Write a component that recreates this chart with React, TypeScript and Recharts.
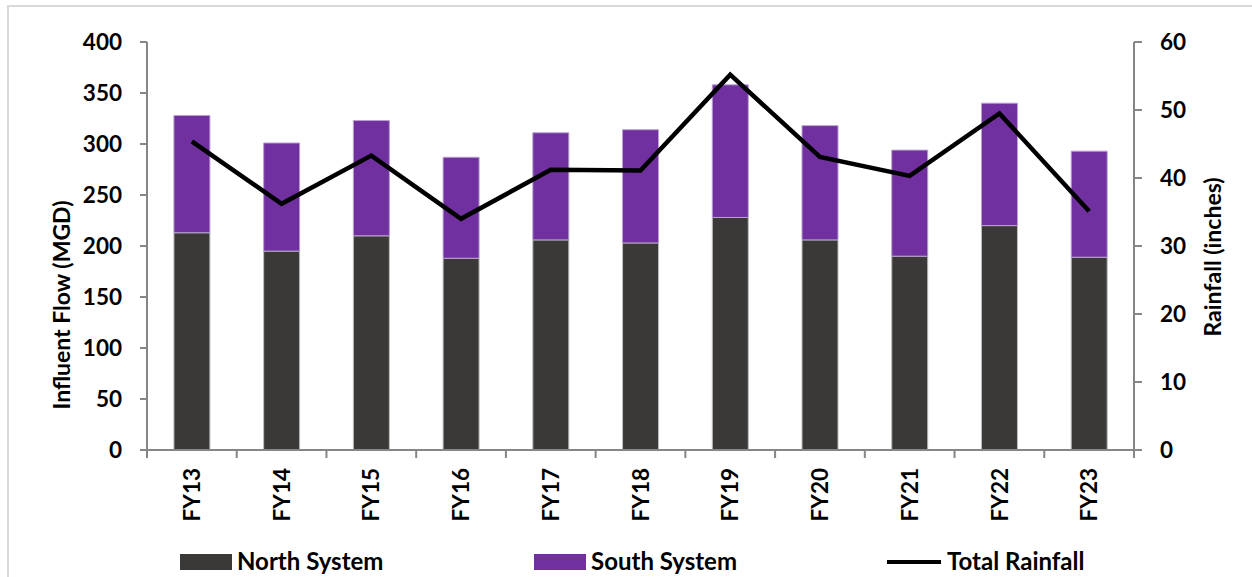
import React from "react";
import { ComposedChart, Bar, Line, XAxis, YAxis, Label } from "recharts";

const categories = ["FY13", "FY14", "FY15", "FY16", "FY17", "FY18", "FY19", "FY20", "FY21", "FY22", "FY23"];
const northSystem = [213, 195, 210, 188, 206, 203, 228, 206, 190, 220, 189];
const southSystem = [115, 106, 113, 99, 105, 111, 130, 112, 104, 120, 104];
const totalRainfall = [45.4, 36.2, 43.3, 34.0, 41.2, 41.1, 55.2, 43.1, 40.3, 49.5, 35.1];
const leftTicks = [0, 50, 100, 150, 200, 250, 300, 350, 400];
const rightTicks = [0, 10, 20, 30, 40, 50, 60];

const data = categories.map((c, i) => ({
  name: c,
  north: northSystem[i],
  south: southSystem[i],
  rain: totalRainfall[i],
}));

const FONT = "Lato, 'Open Sans', sans-serif";
const W = 1252;
const H = 577;
const PLOT_LEFT = 147;
const PLOT_RIGHT = 1134;
const PLOT_TOP = 42;
const PLOT_BOTTOM = 450;
const AXIS_COLOR = "#868686";
const BAND = (PLOT_RIGHT - PLOT_LEFT) / categories.length;

const XTick = (props: any) => {
  const { x, payload, index } = props;
  const cx = payload && payload.coordinate !== undefined ? payload.coordinate : x;
  const last = index === categories.length - 1;
  return (
    <g>
      <line x1={cx - BAND / 2} y1={PLOT_BOTTOM} x2={cx - BAND / 2} y2={PLOT_BOTTOM + 8} stroke={AXIS_COLOR} strokeWidth={2} />
      {last && (
        <line x1={cx + BAND / 2} y1={PLOT_BOTTOM} x2={cx + BAND / 2} y2={PLOT_BOTTOM + 8} stroke={AXIS_COLOR} strokeWidth={2} />
      )}
      <text
        x={cx}
        y={PLOT_BOTTOM + 18}
        transform={`rotate(-90, ${cx}, ${PLOT_BOTTOM + 18})`}
        textAnchor="end"
        dy="0.36em"
        fontFamily={FONT}
        fontWeight={700}
        fontSize={22.5}
        fill="#000"
      >
        {payload.value}
      </text>
    </g>
  );
};

const LegendBlock = () => (
  <div style={{ position: "absolute", left: 0, top: 0, width: W, height: H, pointerEvents: "none", fontFamily: FONT, fontWeight: 700, fontSize: 24, color: "#000" }}>
    <div style={{ position: "absolute", left: 180, top: 554, width: 52, height: 16, background: "#3a3937" }} />
    <div style={{ position: "absolute", left: 237, top: 547, lineHeight: "28px" }}>North System</div>
    <div style={{ position: "absolute", left: 534, top: 554, width: 52, height: 16, background: "#7030a0" }} />
    <div style={{ position: "absolute", left: 591, top: 547, lineHeight: "28px" }}>South System</div>
    <div style={{ position: "absolute", left: 887, top: 560, width: 54, height: 4, background: "#000" }} />
    <div style={{ position: "absolute", left: 947, top: 547, lineHeight: "28px" }}>Total Rainfall</div>
  </div>
);

export default function App() {
  return (
    <div style={{ position: "fixed", left: 0, top: 0, width: W, height: H, background: "#fff", overflow: "hidden" }}>
      <div style={{ position: "absolute", left: 7, top: 5, width: 1300, height: 700, border: "2px solid #d9d9d9", boxSizing: "border-box" }} />
      <div style={{ position: "absolute", left: 0, top: 0 }}>
        <ComposedChart
          width={W}
          height={H}
          data={data}
          margin={{ top: PLOT_TOP, right: W - PLOT_RIGHT - 100, bottom: H - PLOT_BOTTOM - 80, left: PLOT_LEFT - 100 }}
          barCategoryGap="30%"
        >
          <XAxis
            dataKey="name"
            height={80}
            axisLine={{ stroke: AXIS_COLOR, strokeWidth: 2 }}
            tickLine={false}
            tick={<XTick />}
            interval={0}
          />
          <YAxis
            yAxisId="left"
            width={100}
            domain={[0, 400]}
            ticks={leftTicks}
            interval={0}
            axisLine={{ stroke: AXIS_COLOR, strokeWidth: 2 }}
            tickLine={{ stroke: AXIS_COLOR, strokeWidth: 2 }}
            tickSize={7}
            tickMargin={18}
            tick={{ fill: "#000", fontFamily: FONT, fontWeight: 700, fontSize: 22.5 }}
          >
            <Label
              content={() => (
                <text
                  x={61}
                  y={305}
                  transform="rotate(-90, 61, 305)"
                  textAnchor="middle"
                  dominantBaseline="central"
                  fontFamily={FONT}
                  fontWeight={700}
                  fontSize={23}
                  fill="#000"
                >
                  Influent Flow (MGD)
                </text>
              )}
            />
          </YAxis>
          <YAxis
            yAxisId="right"
            orientation="right"
            width={100}
            domain={[0, 60]}
            ticks={rightTicks}
            interval={0}
            axisLine={{ stroke: AXIS_COLOR, strokeWidth: 2 }}
            tickLine={{ stroke: AXIS_COLOR, strokeWidth: 2 }}
            tickSize={8}
            tickMargin={18}
            tick={{ fill: "#000", fontFamily: FONT, fontWeight: 700, fontSize: 22.5, textAnchor: "start" }}
          >
            <Label
              content={() => (
                <text
                  x={1212}
                  y={257}
                  transform="rotate(-90, 1212, 257)"
                  textAnchor="middle"
                  dominantBaseline="central"
                  fontFamily={FONT}
                  fontWeight={700}
                  fontSize={23}
                  fill="#000"
                >
                  Rainfall (inches)
                </text>
              )}
            />
          </YAxis>
          <Bar yAxisId="left" dataKey="north" stackId="s" fill="#3a3937" stroke="#bdbdbd" strokeWidth={1} isAnimationActive={false} />
          <Bar yAxisId="left" dataKey="south" stackId="s" fill="#7030a0" stroke="#b9a0cf" strokeWidth={1} isAnimationActive={false} />
          <Line yAxisId="right" dataKey="rain" type="linear" stroke="#000" strokeWidth={4.5} dot={false} isAnimationActive={false} />
        </ComposedChart>
      </div>
      <LegendBlock />
    </div>
  );
}
